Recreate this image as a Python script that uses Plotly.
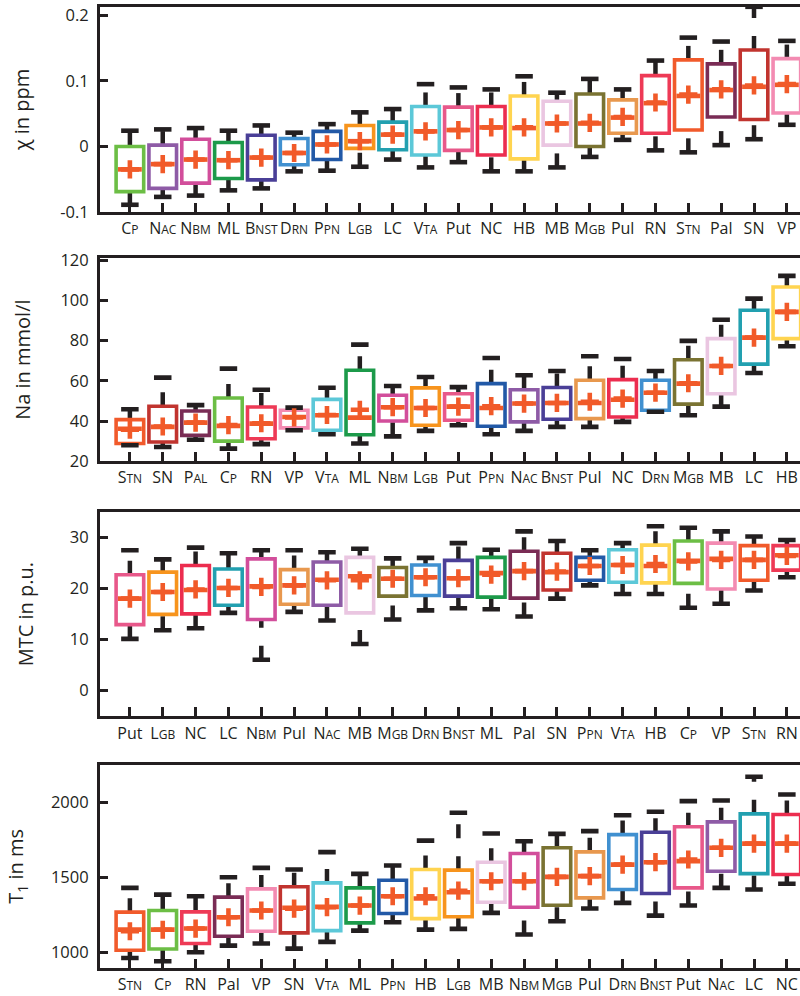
import plotly.graph_objects as go

ORANGE = "#F15A29"
INK = "#231F20"
FONT = "Open Sans"

COLORS = {
    "CP": "#6CBE45", "NAC": "#8E5BA6", "NBM": "#D24E9B", "ML": "#1C9A4A",
    "BNST": "#4A3F97", "DRN": "#4090D0", "PPN": "#2259A7", "LGB": "#F7941D",
    "LC": "#22A0B0", "VTA": "#5CC8D8", "Put": "#E8588A", "NC": "#EC2D4F",
    "HB": "#FFD450", "MB": "#EAC6E1", "MGB": "#7A7332", "Pul": "#E8984E",
    "RN": "#EE3A56", "STN": "#F15A2B", "Pal": "#7A2C55", "SN": "#C1342F",
    "VP": "#F38BB2",
}

# ---------------- panel 1: susceptibility (ppm) ----------------
chi_regions = ["CP", "NAC", "NBM", "ML", "BNST", "DRN", "PPN", "LGB", "LC", "VTA", "Put",
               "NC", "HB", "MB", "MGB", "Pul", "RN", "STN", "Pal", "SN", "VP"]
chi_q1 = [-0.069, -0.064, -0.056, -0.049, -0.051, -0.028, -0.020, -0.003, -0.005, -0.013, -0.006,
          -0.013, -0.019, 0.002, 0.000, 0.020, 0.020, 0.025, 0.045, 0.041, 0.051]
chi_q3 = [0.000, 0.002, 0.011, 0.006, 0.017, 0.012, 0.023, 0.032, 0.037, 0.061, 0.060,
          0.061, 0.077, 0.069, 0.080, 0.071, 0.108, 0.132, 0.126, 0.147, 0.134]
chi_med = [-0.035, -0.027, -0.020, -0.021, -0.017, -0.010, 0.003, 0.008, 0.018, 0.023, 0.025,
           0.029, 0.028, 0.035, 0.035, 0.044, 0.066, 0.077, 0.086, 0.091, 0.094]
chi_mean = [-0.035, -0.027, -0.020, -0.021, -0.017, -0.010, 0.003, 0.008, 0.018, 0.023, 0.025,
            0.029, 0.029, 0.035, 0.036, 0.045, 0.067, 0.079, 0.087, 0.093, 0.095]
chi_lo = [-0.089, -0.077, -0.075, -0.067, -0.064, -0.038, -0.037, -0.031, -0.020, -0.032, -0.024,
          -0.038, -0.038, -0.032, -0.016, 0.010, -0.006, -0.009, 0.002, 0.011, 0.033]
chi_hi = [0.024, 0.026, 0.028, 0.024, 0.032, 0.021, 0.034, 0.052, 0.057, 0.095, 0.090,
          0.087, 0.107, 0.082, 0.103, 0.087, 0.131, 0.166, 0.160, 0.213, 0.161]
chi_ticks = [-0.1, 0, 0.1, 0.2]
chi_ticktext = ["-0.1", "0", "0.1", "0.2"]

# ---------------- panel 2: sodium (mmol/l) ----------------
na_regions = ["STN", "SN", "Pal", "CP", "RN", "VP", "VTA", "ML", "NBM", "LGB", "Put",
              "PPN", "NAC", "BNST", "Pul", "NC", "DRN", "MGB", "MB", "LC", "HB"]
na_q1 = [28.8, 29.6, 32.9, 30.0, 31.2, 36.6, 35.4, 33.2, 40.0, 37.9, 40.4,
         37.4, 39.6, 40.9, 41.2, 42.0, 45.4, 48.4, 53.6, 68.3, 81.0]
na_q3 = [40.7, 47.4, 45.0, 51.5, 47.0, 45.4, 50.8, 65.3, 52.8, 56.5, 53.6,
         58.6, 55.6, 56.7, 60.3, 60.6, 60.3, 70.5, 81.0, 95.1, 106.7]
na_med = [36.2, 37.1, 39.2, 37.6, 38.7, 42.0, 42.9, 41.7, 46.9, 46.5, 47.2,
          46.5, 48.7, 49.0, 49.0, 50.6, 54.1, 58.6, 67.4, 81.5, 94.3]
na_mean = [35.7, 37.3, 39.2, 38.0, 38.9, 41.8, 43.0, 45.6, 46.9, 46.5, 47.2,
           47.4, 48.7, 49.0, 49.6, 51.2, 54.1, 58.8, 67.4, 81.5, 94.3]
na_lo = [28.0, 27.1, 30.7, 26.3, 28.5, 35.4, 33.4, 28.8, 32.4, 35.1, 37.9,
         33.4, 35.1, 37.1, 37.1, 39.6, 44.6, 42.9, 47.2, 63.9, 77.2]
na_hi = [45.9, 61.6, 47.9, 66.1, 55.6, 46.7, 56.6, 78.0, 57.4, 61.9, 56.9,
         71.4, 62.8, 64.9, 72.2, 70.9, 64.9, 79.9, 90.4, 100.9, 112.2]
na_ticks = [20, 40, 60, 80, 100, 120]
na_ticktext = ["20", "40", "60", "80", "100", "120"]

# ---------------- panel 3: MTC (p.u.) ----------------
mtc_regions = ["Put", "LGB", "NC", "LC", "NBM", "Pul", "NAC", "MB", "MGB", "DRN", "BNST",
               "ML", "Pal", "SN", "PPN", "VTA", "HB", "CP", "VP", "STN", "RN"]
mtc_q1 = [12.9, 14.9, 15.0, 16.7, 13.9, 16.9, 16.7, 15.2, 18.5, 18.6, 18.5,
          18.3, 18.1, 19.7, 21.6, 21.2, 21.1, 21.0, 19.9, 21.6, 23.6]
mtc_q3 = [22.7, 23.2, 24.5, 23.8, 25.8, 23.7, 25.2, 26.1, 24.1, 24.6, 25.5,
          26.1, 27.3, 26.9, 26.1, 27.6, 28.5, 29.3, 28.9, 28.4, 28.4]
mtc_med = [18.0, 19.3, 19.7, 20.1, 20.4, 20.6, 21.7, 22.4, 21.9, 22.2, 22.0,
           23.0, 23.4, 23.2, 24.4, 24.6, 24.4, 25.4, 25.8, 25.6, 26.5]
mtc_mean = [18.0, 19.3, 19.8, 20.1, 20.3, 20.6, 21.6, 21.6, 21.9, 22.2, 22.0,
            22.7, 23.4, 23.3, 24.4, 24.6, 24.8, 25.3, 25.6, 25.6, 26.4]
mtc_lo = [10.1, 11.8, 12.2, 15.2, 6.0, 15.4, 13.7, 9.1, 13.9, 15.7, 16.1,
          15.9, 14.5, 18.0, 20.6, 18.9, 18.9, 16.2, 17.0, 19.6, 22.2]
mtc_hi = [27.5, 25.7, 28.0, 26.9, 27.5, 27.5, 27.1, 27.8, 25.9, 26.0, 28.9,
          27.6, 31.2, 29.3, 27.5, 28.9, 32.2, 31.9, 31.2, 30.2, 29.5]
mtc_ticks = [0, 10, 20, 30]
mtc_ticktext = ["0", "10", "20", "30"]

# ---------------- panel 4: T1 (ms) ----------------
t1_regions = ["STN", "CP", "RN", "Pal", "VP", "SN", "VTA", "ML", "PPN", "HB", "LGB",
              "MB", "NBM", "MGB", "Pul", "DRN", "BNST", "Put", "NAC", "LC", "NC"]
t1_q1 = [1013, 1022, 1058, 1107, 1140, 1129, 1144, 1196, 1258, 1224, 1236,
         1333, 1300, 1313, 1362, 1418, 1391, 1429, 1540, 1524, 1518]
t1_q3 = [1267, 1278, 1269, 1367, 1422, 1436, 1462, 1429, 1480, 1551, 1547,
         1600, 1658, 1696, 1669, 1784, 1800, 1836, 1869, 1922, 1918]
t1_med = [1151, 1151, 1158, 1233, 1278, 1296, 1302, 1311, 1373, 1358, 1400,
          1473, 1473, 1502, 1507, 1584, 1600, 1607, 1696, 1724, 1724]
t1_mean = [1140, 1150, 1158, 1233, 1278, 1290, 1300, 1311, 1373, 1373, 1410,
           1473, 1473, 1502, 1507, 1584, 1600, 1618, 1696, 1724, 1724]
t1_lo = [962, 940, 1000, 1044, 1058, 1024, 1069, 1144, 1200, 1151, 1156,
         1262, 1118, 1207, 1291, 1329, 1244, 1311, 1429, 1418, 1456]
t1_hi = [1429, 1384, 1373, 1500, 1562, 1551, 1667, 1522, 1578, 1744, 1929,
         1791, 1740, 1789, 1807, 1913, 1936, 2007, 2011, 2169, 2051]
t1_ticks = [1000, 1500, 2000]
t1_ticktext = ["1000", "1500", "2000"]

# tick label text (small caps written as smaller trailing letters)
SMALL = 12
def sc(big, small):
    return f"{big}<span style='font-size:{SMALL}px'>{small}</span>"

LABELS = {
    "CP": sc("C", "P"), "NAC": sc("N", "AC"), "NBM": sc("N", "BM"), "ML": "ML",
    "BNST": sc("B", "NST"), "DRN": sc("D", "RN"), "PPN": sc("P", "PN"), "LGB": sc("L", "GB"),
    "LC": "LC", "VTA": sc("V", "TA"), "Put": "Put", "NC": "NC", "HB": "HB", "MB": "MB",
    "MGB": sc("M", "GB"), "Pul": "Pul", "RN": "RN", "STN": sc("S", "TN"), "Pal": "Pal",
    "SN": "SN", "VP": "VP",
}

panels = [
    dict(regions=chi_regions, q1=chi_q1, q3=chi_q3, med=chi_med, mean=chi_mean, lo=chi_lo, hi=chi_hi,
         ticks=chi_ticks, ticktext=chi_ticktext, yrange=[-0.1, 0.2127], title="χ in ppm",
         domain=[0.7867, 1.0], standoff=26, labels={}),
    dict(regions=na_regions, q1=na_q1, q3=na_q3, med=na_med, mean=na_mean, lo=na_lo, hi=na_hi,
         ticks=na_ticks, ticktext=na_ticktext, yrange=[20, 121.1], title="Na in mmol/l",
         domain=[0.5273, 0.7388], standoff=25, labels={"Pal": sc("P", "AL")}),
    dict(regions=mtc_regions, q1=mtc_q1, q3=mtc_q3, med=mtc_med, mean=mtc_mean, lo=mtc_lo, hi=mtc_hi,
         ticks=mtc_ticks, ticktext=mtc_ticktext, yrange=[-5.1, 35.0], title="MTC in p.u.",
         domain=[0.2619, 0.4745], standoff=31, labels={}),
    dict(regions=t1_regions, q1=t1_q1, q3=t1_q3, med=t1_med, mean=t1_mean, lo=t1_lo, hi=t1_hi,
         ticks=t1_ticks, ticktext=t1_ticktext, yrange=[895, 2250], title="T<sub>1</sub> in ms",
         domain=[0.0, 0.2116], standoff=22, labels={}),
]

XRANGE = [-0.91, 20.4]
fig = go.Figure()
layout = {}

for k, p in enumerate(panels):
    n = k + 1
    ov = n + 4
    xb, yb = ("x" if n == 1 else f"x{n}"), ("y" if n == 1 else f"y{n}")
    xo, yo = f"x{ov}", f"y{ov}"
    regs = p["regions"]

    # dashed whiskers (drawn bottom-to-top) on the base axes, beneath the boxes
    wx, wy = [], []
    for i, r in enumerate(regs):
        wx += [r, r, None, r, r, None]
        wy += [p["lo"][i], p["q1"][i], None, p["q3"][i], p["hi"][i], None]
    fig.add_trace(go.Scatter(x=wx, y=wy, mode="lines", xaxis=xb, yaxis=yb,
                             line=dict(color=INK, width=4.5, dash="14px,18px"),
                             hoverinfo="skip", showlegend=False, connectgaps=False))

    # boxes on overlay axes
    fig.add_trace(go.Bar(x=regs, y=[b - a for a, b in zip(p["q1"], p["q3"])], base=p["q1"],
                         width=0.84, xaxis=xo, yaxis=yo, showlegend=False,
                         marker=dict(color="white", line=dict(color=[COLORS[r] for r in regs], width=3.6))))
    # whisker caps
    fig.add_trace(go.Scatter(x=regs + regs, y=p["lo"] + p["hi"], mode="markers", xaxis=xo, yaxis=yo,
                             marker=dict(symbol="line-ew", size=12.5, line=dict(color=INK, width=4.6)),
                             showlegend=False, cliponaxis=True))
    # medians
    fig.add_trace(go.Scatter(x=regs, y=p["med"], mode="markers", xaxis=xo, yaxis=yo,
                             marker=dict(symbol="line-ew", size=17, line=dict(color=ORANGE, width=4.6)),
                             showlegend=False))
    # means
    fig.add_trace(go.Scatter(x=regs, y=p["mean"], mode="markers", xaxis=xo, yaxis=yo,
                             marker=dict(symbol="cross-thin", size=13, line=dict(color=ORANGE, width=4.6)),
                             showlegend=False))

    ticktext = [p["labels"].get(r, LABELS[r]) for r in regs]
    axkey = "xaxis" if n == 1 else f"xaxis{n}"
    aykey = "yaxis" if n == 1 else f"yaxis{n}"
    layout[axkey] = dict(domain=[0, 1], anchor=yb, type="category", categoryorder="array",
                         categoryarray=regs, range=XRANGE, tickmode="array", tickvals=regs,
                         ticktext=ticktext, ticks="inside", ticklen=9, tickwidth=3, tickcolor=INK,
                         tickangle=0, showline=True, linewidth=3, linecolor=INK, mirror=True,
                         showgrid=False, zeroline=False, automargin=False,
                         tickfont=dict(family=FONT, size=16, color=INK))
    layout[aykey] = dict(domain=p["domain"], anchor=xb, range=p["yrange"], tickmode="array",
                         tickvals=p["ticks"], ticktext=p["ticktext"], ticks="inside", ticklen=8,
                         tickwidth=3, tickcolor=INK, showline=True, linewidth=3, linecolor=INK,
                         mirror=False, showgrid=False, zeroline=False, ticklabelstandoff=5,
                         tickfont=dict(family=FONT, size=16.5, color=INK),
                         title=dict(text=p["title"], standoff=p["standoff"],
                                    font=dict(family=FONT, size=20, color=INK)),
                         automargin=False)
    layout[f"xaxis{ov}"] = dict(overlaying=xb, anchor=yo, type="category", categoryorder="array",
                                categoryarray=regs, range=XRANGE, visible=False)
    layout[f"yaxis{ov}"] = dict(overlaying=yb, anchor=xo, range=p["yrange"], visible=False)

fig.update_layout(width=800, height=996, margin=dict(l=100, r=0, t=7, b=28, autoexpand=False),
                  paper_bgcolor="white", plot_bgcolor="white", barmode="overlay",
                  showlegend=False, **layout)

fig.write_html("out.html", config={"displayModeBar": False},
               post_script="document.body.style.margin='0';document.body.style.overflow='hidden';")
